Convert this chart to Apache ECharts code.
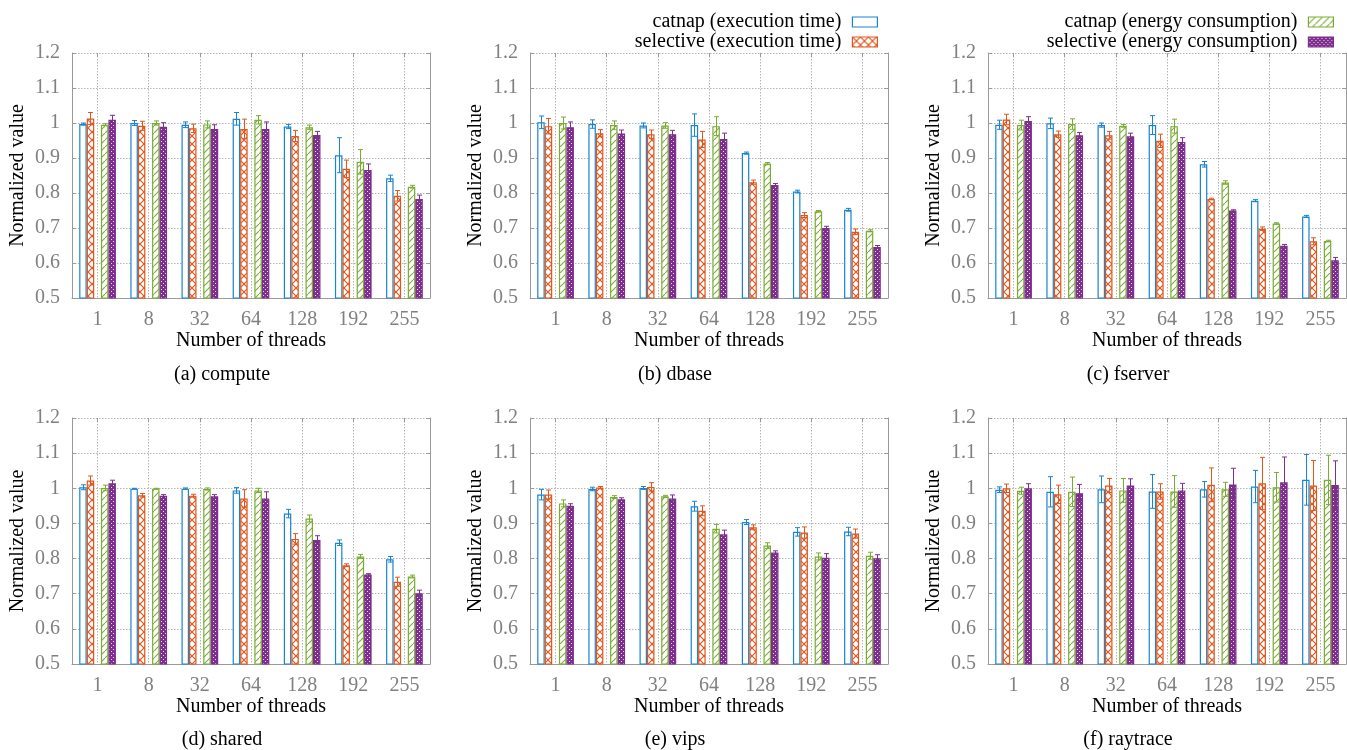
<!DOCTYPE html>
<html>
<head>
<meta charset="utf-8">
<script src="https://cdn.jsdelivr.net/npm/echarts@6/dist/echarts.min.js"></script>
<style>
html,body{margin:0;padding:0;background:#fff;}
#chart{width:1347px;height:750px;}
</style>
</head>
<body>
<div id="chart"></div>
<script>
// ---------- data ----------
const threads = ['1', '8', '32', '64', '128', '192', '255'];
const panelTitles = ['(a) compute', '(b) dbase', '(c) fserver', '(d) shared', '(e) vips', '(f) raytrace'];
const seriesNames = ['catnap (execution time)', 'selective (execution time)', 'catnap (energy consumption)', 'selective (energy consumption)'];
const yTicks = [0.5, 0.6, 0.7, 0.8, 0.9, 1.0, 1.1, 1.2];

// compute
const computeCatnapTime = [0.997, 1.000, 0.995, 1.012, 0.990, 0.908, 0.842];
const computeCatnapTimeErr = [0.003, 0.007, 0.008, 0.018, 0.006, 0.050, 0.009];
const computeSelectiveTime = [1.013, 0.992, 0.985, 0.983, 0.963, 0.869, 0.792];
const computeSelectiveTimeErr = [0.017, 0.013, 0.012, 0.028, 0.016, 0.025, 0.015];
const computeCatnapEnergy = [0.995, 1.000, 0.996, 1.009, 0.988, 0.889, 0.818];
const computeCatnapEnergyErr = [0.003, 0.006, 0.010, 0.012, 0.006, 0.035, 0.004];
const computeSelectiveEnergy = [1.009, 0.989, 0.983, 0.983, 0.966, 0.866, 0.783];
const computeSelectiveEnergyErr = [0.013, 0.012, 0.012, 0.020, 0.010, 0.017, 0.011];
// dbase
const dbaseCatnapTime = [1.002, 0.997, 0.993, 0.994, 0.914, 0.804, 0.752];
const dbaseCatnapTimeErr = [0.018, 0.012, 0.007, 0.032, 0.003, 0.004, 0.004];
const dbaseSelectiveTime = [0.991, 0.971, 0.968, 0.953, 0.831, 0.737, 0.689];
const dbaseSelectiveTimeErr = [0.022, 0.010, 0.012, 0.023, 0.006, 0.007, 0.008];
const dbaseCatnapEnergy = [1.000, 0.994, 0.993, 0.991, 0.884, 0.748, 0.692];
const dbaseCatnapEnergyErr = [0.017, 0.012, 0.008, 0.027, 0.003, 0.002, 0.003];
const dbaseSelectiveEnergy = [0.988, 0.970, 0.968, 0.954, 0.823, 0.700, 0.646];
const dbaseSelectiveEnergyErr = [0.015, 0.010, 0.011, 0.017, 0.004, 0.005, 0.004];
// fserver
const fserverCatnapTime = [0.995, 0.999, 0.994, 0.994, 0.882, 0.778, 0.733];
const fserverCatnapTimeErr = [0.013, 0.015, 0.006, 0.027, 0.008, 0.003, 0.003];
const fserverSelectiveTime = [1.010, 0.968, 0.965, 0.949, 0.783, 0.698, 0.662];
const fserverSelectiveTimeErr = [0.015, 0.009, 0.011, 0.019, 0.002, 0.005, 0.010];
const fserverCatnapEnergy = [0.994, 0.997, 0.992, 0.991, 0.830, 0.713, 0.663];
const fserverCatnapEnergyErr = [0.014, 0.015, 0.004, 0.020, 0.005, 0.002, 0.002];
const fserverSelectiveEnergy = [1.006, 0.965, 0.962, 0.946, 0.750, 0.649, 0.608];
const fserverSelectiveEnergyErr = [0.012, 0.008, 0.009, 0.012, 0.002, 0.004, 0.008];
// shared
const sharedCatnapTime = [1.003, 0.999, 0.999, 0.994, 0.928, 0.845, 0.798];
const sharedCatnapTimeErr = [0.007, 0.001, 0.002, 0.008, 0.012, 0.008, 0.008];
const sharedSelectiveTime = [1.022, 0.980, 0.979, 0.971, 0.856, 0.781, 0.734];
const sharedSelectiveTimeErr = [0.013, 0.005, 0.004, 0.025, 0.015, 0.004, 0.013];
const sharedCatnapEnergy = [1.001, 0.999, 0.998, 0.994, 0.914, 0.806, 0.749];
const sharedCatnapEnergyErr = [0.008, 0.001, 0.003, 0.006, 0.010, 0.006, 0.004];
const sharedSelectiveEnergy = [1.014, 0.979, 0.977, 0.971, 0.853, 0.755, 0.701];
const sharedSelectiveEnergyErr = [0.009, 0.003, 0.005, 0.019, 0.012, 0.002, 0.009];
// vips
const vipsCatnapTime = [0.982, 0.998, 1.001, 0.949, 0.904, 0.876, 0.877];
const vipsCatnapTimeErr = [0.015, 0.005, 0.004, 0.014, 0.007, 0.012, 0.012];
const vipsSelectiveTime = [0.982, 1.002, 1.004, 0.936, 0.889, 0.874, 0.871];
const vipsSelectiveTimeErr = [0.013, 0.003, 0.012, 0.014, 0.007, 0.016, 0.013];
const vipsCatnapEnergy = [0.957, 0.975, 0.977, 0.885, 0.837, 0.806, 0.808];
const vipsCatnapEnergyErr = [0.010, 0.004, 0.003, 0.012, 0.008, 0.010, 0.010];
const vipsSelectiveEnergy = [0.950, 0.969, 0.971, 0.869, 0.817, 0.802, 0.801];
const vipsSelectiveEnergyErr = [0.006, 0.004, 0.010, 0.012, 0.005, 0.012, 0.010];
// raytrace
const raytraceCatnapTime = [0.996, 0.990, 0.997, 0.991, 0.997, 1.005, 1.024];
const raytraceCatnapTimeErr = [0.008, 0.043, 0.038, 0.048, 0.022, 0.046, 0.072];
const raytraceSelectiveTime = [1.000, 0.983, 1.008, 0.991, 1.010, 1.014, 1.008];
const raytraceSelectiveTimeErr = [0.012, 0.026, 0.020, 0.022, 0.048, 0.074, 0.071];
const raytraceCatnapEnergy = [0.993, 0.990, 0.994, 0.991, 0.997, 1.003, 1.024];
const raytraceCatnapEnergyErr = [0.010, 0.042, 0.034, 0.045, 0.020, 0.042, 0.070];
const raytraceSelectiveEnergy = [1.000, 0.986, 1.008, 0.994, 1.011, 1.017, 1.009];
const raytraceSelectiveEnergyErr = [0.013, 0.025, 0.019, 0.020, 0.046, 0.072, 0.069];

// ---------- assembly ----------
const panelValues = [
  [computeCatnapTime, computeSelectiveTime, computeCatnapEnergy, computeSelectiveEnergy],
  [dbaseCatnapTime, dbaseSelectiveTime, dbaseCatnapEnergy, dbaseSelectiveEnergy],
  [fserverCatnapTime, fserverSelectiveTime, fserverCatnapEnergy, fserverSelectiveEnergy],
  [sharedCatnapTime, sharedSelectiveTime, sharedCatnapEnergy, sharedSelectiveEnergy],
  [vipsCatnapTime, vipsSelectiveTime, vipsCatnapEnergy, vipsSelectiveEnergy],
  [raytraceCatnapTime, raytraceSelectiveTime, raytraceCatnapEnergy, raytraceSelectiveEnergy]
];
const panelErrors = [
  [computeCatnapTimeErr, computeSelectiveTimeErr, computeCatnapEnergyErr, computeSelectiveEnergyErr],
  [dbaseCatnapTimeErr, dbaseSelectiveTimeErr, dbaseCatnapEnergyErr, dbaseSelectiveEnergyErr],
  [fserverCatnapTimeErr, fserverSelectiveTimeErr, fserverCatnapEnergyErr, fserverSelectiveEnergyErr],
  [sharedCatnapTimeErr, sharedSelectiveTimeErr, sharedCatnapEnergyErr, sharedSelectiveEnergyErr],
  [vipsCatnapTimeErr, vipsSelectiveTimeErr, vipsCatnapEnergyErr, vipsSelectiveEnergyErr],
  [raytraceCatnapTimeErr, raytraceSelectiveTimeErr, raytraceCatnapEnergyErr, raytraceSelectiveEnergyErr]
];

const FONT = "'Liberation Serif', 'DejaVu Serif', serif";
const colors = ['#1884d2', '#e0571e', '#78ad32', '#7e2f8e'];
const GRAY = '#808080';
const AXIS_GRAY = '#9a9a9a';

function tile(kind) {
  const c = document.createElement('canvas');
  const ctx = c.getContext('2d');
  if (kind === 'cross') {
    c.width = 8; c.height = 8;
    ctx.fillStyle = '#fff'; ctx.fillRect(0, 0, 8, 8);
    ctx.strokeStyle = colors[1]; ctx.lineWidth = 1.2;
    ctx.beginPath();
    ctx.moveTo(-1, -1); ctx.lineTo(9, 9);
    ctx.moveTo(9, -1); ctx.lineTo(-1, 9);
    ctx.stroke();
  } else if (kind === 'diag') {
    c.width = 7; c.height = 7;
    ctx.fillStyle = '#fff'; ctx.fillRect(0, 0, 7, 7);
    ctx.strokeStyle = colors[2]; ctx.lineWidth = 1.1;
    ctx.beginPath();
    ctx.moveTo(-1, 8); ctx.lineTo(8, -1);
    ctx.stroke();
  } else {
    c.width = 4; c.height = 4;
    ctx.fillStyle = colors[3]; ctx.fillRect(0, 0, 4, 4);
    ctx.fillStyle = 'rgba(255,255,255,0.85)';
    ctx.fillRect(1, 1, 1, 1);
    ctx.fillRect(3, 3, 1, 1);
  }
  return c;
}
const fills = [
  '#ffffff',
  { image: tile('cross'), repeat: 'repeat' },
  { image: tile('diag'), repeat: 'repeat' },
  { image: tile('check'), repeat: 'repeat' }
];

const BAR_W = 7.5, MID_GAP = 6.7;
const total = 4 * BAR_W + MID_GAP;
const offsets = [
  -total / 2 + BAR_W / 2,
  -total / 2 + BAR_W * 1.5,
  total / 2 - BAR_W * 1.5,
  total / 2 - BAR_W / 2
];

const gridLefts = [72, 530, 988];
const gridTops = [53, 418];
const captionX = [222, 675, 1128];
const captionY = [375, 740];

const grids = [], xAxes = [], yAxes = [], series = [], graphics = [];

for (let p = 0; p < 6; p++) {
  const col = p % 3, row = Math.floor(p / 3);
  grids.push({ left: gridLefts[col], top: gridTops[row], width: 358, height: 245 + row });
  xAxes.push({
    type: 'category', gridIndex: p, data: threads, position: 'bottom',
    axisLine: { show: true, lineStyle: { color: AXIS_GRAY, width: 1 } },
    axisTick: { show: false },
    axisLabel: { color: GRAY, fontSize: 20, fontFamily: FONT, margin: 12 },
    splitLine: { show: true, alignWithLabel: true, lineStyle: { color: '#b4b4b4', type: [1.5, 1.5], width: 1 } },
    name: 'Number of threads', nameLocation: 'middle', nameGap: 33,
    nameTextStyle: { color: '#000', fontSize: 20, fontFamily: FONT }
  });
  xAxes.push({
    type: 'category', gridIndex: p, data: threads, position: 'top',
    axisLine: { show: false },
    axisTick: { show: true, inside: true, alignWithLabel: true, length: 4, lineStyle: { color: AXIS_GRAY } },
    axisLabel: { show: false }, splitLine: { show: false }
  });
  yAxes.push({
    type: 'value', gridIndex: p, min: yTicks[0], max: yTicks[yTicks.length - 1], interval: 0.1,
    axisLine: { show: true, lineStyle: { color: AXIS_GRAY, width: 1 } },
    axisTick: { show: true, inside: true, length: 4, lineStyle: { color: AXIS_GRAY } },
    axisLabel: { color: GRAY, fontSize: 20, fontFamily: FONT, margin: 12,
      formatter: v => String(parseFloat(v.toFixed(1))) },
    splitLine: { show: true, lineStyle: { color: '#b4b4b4', type: [1.5, 1.5], width: 1 } },
    name: 'Normalized value', nameLocation: 'middle', nameGap: 44,
    nameTextStyle: { color: '#000', fontSize: 20, fontFamily: FONT }
  });
  yAxes.push({
    type: 'value', gridIndex: p, min: yTicks[0], max: yTicks[yTicks.length - 1], interval: 0.1, position: 'right',
    axisLine: { show: true, lineStyle: { color: AXIS_GRAY, width: 1 } },
    axisTick: { show: true, inside: true, length: 4, lineStyle: { color: AXIS_GRAY } },
    axisLabel: { show: false }, splitLine: { show: false }
  });

  const xi = p * 2, yi = p * 2;
  const order = [0, 1, -1, 2, 3];
  order.forEach(s => {
    if (s < 0) {
      series.push({
        type: 'bar', name: '_gap', xAxisIndex: xi, yAxisIndex: yi,
        data: threads.map(() => null), barWidth: MID_GAP, barGap: '0%', silent: true
      });
      return;
    }
    series.push({
      type: 'bar', name: seriesNames[s], xAxisIndex: xi, yAxisIndex: yi,
      data: panelValues[p][s], barWidth: BAR_W, barGap: '0%',
      itemStyle: { color: fills[s], borderColor: colors[s], borderWidth: 1.2 },
      emphasis: { disabled: true }, animation: false
    });
  });
  for (let s = 0; s < 4; s++) {
    const vals = panelValues[p][s], errs = panelErrors[p][s];
    const off = offsets[s], col2 = colors[s];
    series.push({
      type: 'custom', name: seriesNames[s] + ' err', xAxisIndex: xi, yAxisIndex: yi,
      data: vals.map((v, i) => [i, v - errs[i], v + errs[i]]),
      encode: { x: 0, y: [1, 2] }, z: 5, silent: true, animation: false,
      renderItem: (params, api) => {
        const i = api.value(0);
        const lo = api.coord([i, api.value(1)]);
        const hi = api.coord([i, api.value(2)]);
        const x = Math.round(lo[0] + off) + 0.5;
        const st = { stroke: col2, lineWidth: 1, fill: null };
        return {
          type: 'group', children: [
            { type: 'line', shape: { x1: x, y1: lo[1], x2: x, y2: hi[1] }, style: st },
            { type: 'line', shape: { x1: x - 2.5, y1: lo[1], x2: x + 2.5, y2: lo[1] }, style: st },
            { type: 'line', shape: { x1: x - 2.5, y1: hi[1], x2: x + 2.5, y2: hi[1] }, style: st }
          ]
        };
      }
    });
  }
  graphics.push({
    type: 'text', x: captionX[col], y: captionY[row],
    style: { text: panelTitles[p], x: 0, y: 0, textAlign: 'center', textVerticalAlign: 'middle',
      font: '20px ' + FONT, fill: '#000' }
  });
}

const legendCommon = {
  orient: 'vertical', align: 'right', top: 7, itemWidth: 25, itemHeight: 10, itemGap: 0,
  selectedMode: false, icon: 'rect',
  itemStyle: { borderWidth: 1.2 },
  textStyle: { fontSize: 20, fontFamily: FONT, color: '#000', lineHeight: 20, padding: [0, 6, 0, 0] }
};

const chart = echarts.init(document.getElementById('chart'), null, { renderer: 'canvas' });
chart.setOption({
  backgroundColor: '#ffffff',
  animation: false,
  grid: grids,
  xAxis: xAxes,
  yAxis: yAxes,
  legend: [
    Object.assign({}, legendCommon, { right: 464, data: seriesNames.slice(0, 2) }),
    Object.assign({}, legendCommon, { right: 8, data: seriesNames.slice(2, 4) })
  ],
  graphic: graphics,
  series: series
});
</script>
</body>
</html>
